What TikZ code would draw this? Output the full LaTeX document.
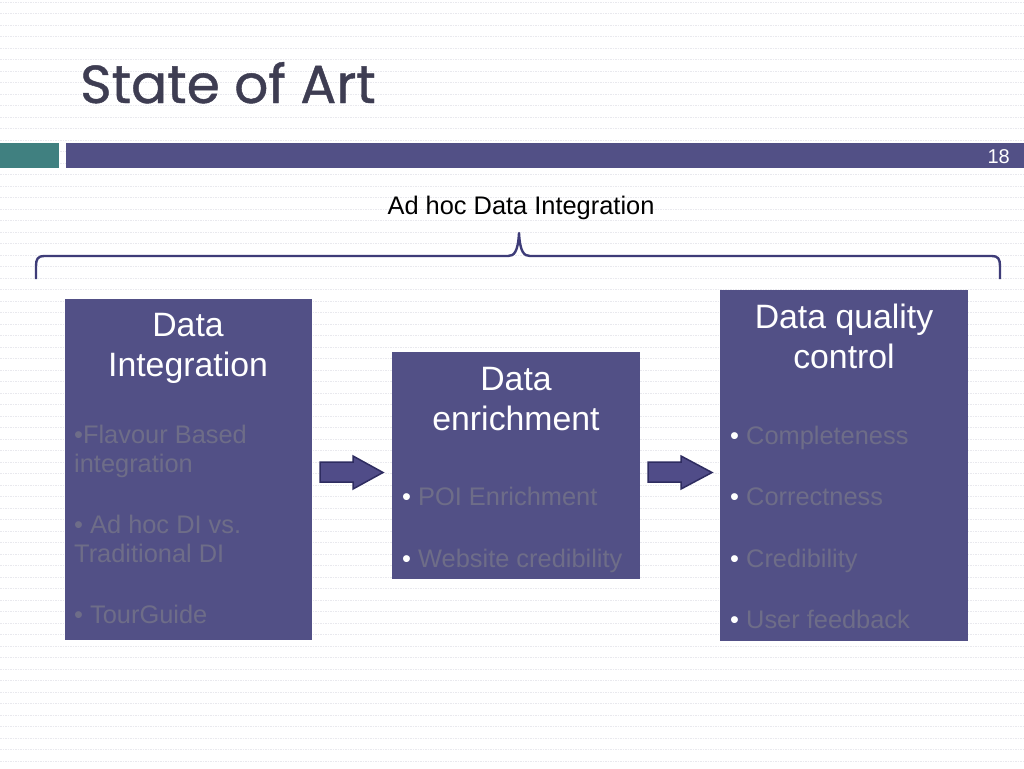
\documentclass[tikz,border=0pt]{standalone}
\usepackage{fontspec}
\setmainfont{Liberation Sans}
\newfontfamily\titlefont[FakeBold=0.8]{Poppins}
\definecolor{barteal}{RGB}{64,128,128}
\definecolor{barpurple}{RGB}{82,80,134}
\definecolor{boxfill}{RGB}{82,80,134}
\definecolor{bullgray}{RGB}{110,109,136}
\definecolor{titlecol}{RGB}{62,61,82}
\definecolor{bracecol}{RGB}{62,60,120}
\definecolor{arrowfill}{RGB}{80,76,136}
\definecolor{arrowedge}{RGB}{46,44,96}
\definecolor{bgline}{RGB}{233,233,238}
\begin{document}
\begin{tikzpicture}[x=1pt,y=-1pt,
  bglinestyle/.style={draw=bgline,line width=0.6pt,dash pattern=on 1.5pt off 1pt},
  boxnode/.style={fill=boxfill,draw=none,inner sep=0pt,anchor=north west},
  ttl/.style={anchor=base,inner sep=0pt,text=white,font=\fontsize{33.8}{40}\selectfont},
  bul/.style={anchor=base west,inner sep=0pt,text=bullgray,font=\fontsize{25.4}{29}\selectfont},
  blockarrow/.style={fill=arrowfill,draw=arrowedge,line width=1.5pt,line join=miter},
  bracestyle/.style={draw=bracecol,line width=2.4pt,line join=round}]
\useasboundingbox (0,0) rectangle (1024,768);
\fill[white] (0,0) rectangle (1024,768);
\foreach \k in {0,...,66} \draw[bglinestyle] (0,2+11.5*\k) -- (1024,2+11.5*\k);
% title and bars
\node[anchor=base west,inner sep=0pt,text=titlecol,font=\titlefont\fontsize{53.5}{60}\selectfont] (title) at (80,103) {State of Art};
\fill[barteal] (0,143) rectangle (59,168);
\fill[barpurple] (66,143) rectangle (1024,168);
\node[anchor=base east,inner sep=0pt,text=white,font=\fontsize{20}{24}\selectfont] (pnum) at (1010,163) {18};
% top label and brace
\node[anchor=base,inner sep=0pt,font=\fontsize{25.4}{30}\selectfont] (adhoc) at (521,214) {Ad hoc Data Integration};
\coordinate (brL) at (36,279);
\coordinate (brM) at (519,233);
\coordinate (brR) at (1000,279);
\draw[bracestyle] (brL) -- (36,266) .. controls (36,259) and (38,256) .. (44,256) -- (508,256) .. controls (514,256) and (518,252) .. (brM) .. controls (520,252) and (524,256) .. (530,256) -- (992,256) .. controls (998,256) and (1000,259) .. (1000,266) -- (brR);
% boxes
\node[boxnode,minimum width=247,minimum height=341] (b1) at (65,299) {};
\node[boxnode,minimum width=248,minimum height=227] (b2) at (392,352) {};
\node[boxnode,minimum width=248,minimum height=351] (b3) at (720,290) {};
% box 1 text
\node[ttl] (b1t1) at (188,336) {Data};
\node[ttl] (b1t2) at (188,376) {Integration};
\node[bul] (b1l1) at (74,443) {•Flavour Based};
\node[bul] (b1l2) at (74,472) {integration};
\node[bul] (b1l3) at (74,533) {• Ad hoc DI vs.};
\node[bul] (b1l4) at (74,562) {Traditional DI};
\node[bul] (b1l5) at (74,623) {• TourGuide};
% box 2 text
\node[ttl] (b2t1) at (516,390) {Data};
\node[ttl] (b2t2) at (516,430) {enrichment};
\node[bul] (b2l1) at (402,505) {{\color{white}•} POI Enrichment};
\node[bul] (b2l2) at (402,567) {{\color{white}•} Website credibility};
% box 3 text
\node[ttl] (b3t1) at (844,328) {Data quality};
\node[ttl] (b3t2) at (844,368) {control};
\node[bul] (b3l1) at (730,444) {{\color{white}•} Completeness};
\node[bul] (b3l2) at (730,505) {{\color{white}•} Correctness};
\node[bul] (b3l3) at (730,567) {{\color{white}•} Credibility};
\node[bul] (b3l4) at (730,628) {{\color{white}•} User feedback};
% block arrows
\draw[blockarrow] (320,462) -- (353,462) -- (353,456) -- (383,472.5) -- (353,489) -- (353,482) -- (320,482) -- cycle;
\draw[blockarrow] (648,462) -- (681,462) -- (681,456) -- (712,472.5) -- (681,489) -- (681,482) -- (648,482) -- cycle;
\end{tikzpicture}
\end{document}
